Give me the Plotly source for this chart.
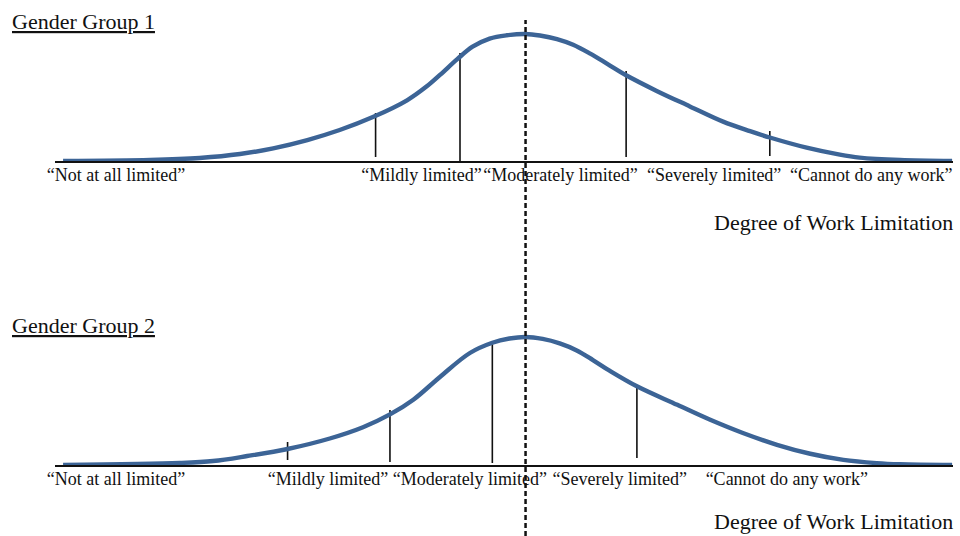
import plotly.graph_objects as go

# Latent scale of "degree of work limitation" (0-100); density normalised to peak = 1
g1_x = [0.9, 10.6, 16.1, 20.6, 24.3, 28.1, 31.7, 35.4, 39.2, 41.4, 42.9, 44.8, 46.5, 48.4,
        50.3, 52.4, 54.0, 55.9, 57.7, 59.6, 61.5, 63.6, 67.0, 70.7, 74.4, 77.4, 79.6, 83.7,
        87.4, 89.6, 94.1, 99.9]
g1_y = [0.0, 0.008, 0.024, 0.055, 0.10, 0.165, 0.244, 0.346, 0.478, 0.588, 0.68, 0.802,
        0.9, 0.964, 0.99, 1.0, 0.988, 0.96, 0.915, 0.845, 0.765, 0.675, 0.552, 0.43, 0.31,
        0.235, 0.185, 0.105, 0.05, 0.027, 0.008, 0.0]

g2_x = [0.9, 13.9, 17.6, 21.4, 25.9, 30.6, 34.3, 37.3, 39.9, 42.9, 46.2, 48.7, 50.6, 52.4,
        54.3, 56.2, 58.1, 59.9, 61.8, 64.8, 69.3, 72.9, 76.6, 80.4, 84.1, 87.8, 91.5, 94.1,
        99.9]
g2_y = [0.0, 0.016, 0.031, 0.07, 0.125, 0.207, 0.295, 0.395, 0.51, 0.69, 0.875, 0.955,
        0.988, 1.0, 0.985, 0.95, 0.895, 0.82, 0.735, 0.615, 0.47, 0.355, 0.25, 0.158, 0.088,
        0.04, 0.015, 0.006, 0.0]

# Thresholds (cut points) per group
g1_cut_x = [35.7, 45.1, 63.6, 79.6]
g1_cut_top = [0.378, 0.85, 0.709, 0.236]
g1_cut_bot = [0.031, 0.0, 0.031, 0.039]
g2_cut_x = [25.9, 37.3, 48.7, 64.8]
g2_cut_top = [0.18, 0.43, 0.96, 0.61]
g2_cut_bot = [0.039, 0.023, 0.016, 0.055]

common_mean = 52.4

categories = ["“Not at all limited”", "“Mildly limited”", "“Moderately limited”",
              "“Severely limited”", "“Cannot do any work”"]
g1_label_x = [6.8, 40.8, 56.3, 73.4, 90.9]
g2_label_x = [6.8, 30.4, 46.2, 62.9, 81.5]

titles = ["Gender Group 1", "Gender Group 2"]
axis_title = "Degree of Work Limitation"

CURVE = "#3c6496"
FONT = "Liberation Serif"
W, H = 960, 536

def seg(xs, bots, tops):
    X, Y = [], []
    for x, b, t in zip(xs, bots, tops):
        X += [x, x, None]
        Y += [b, t, None]
    return X, Y

fig = go.Figure()
for xs, ys, cx, cb, ct, ax in [
    (g1_x, g1_y, g1_cut_x, g1_cut_bot, g1_cut_top, ("x", "y")),
    (g2_x, g2_y, g2_cut_x, g2_cut_bot, g2_cut_top, ("x2", "y2")),
]:
    sx, sy = seg(cx, cb, ct)
    fig.add_trace(go.Scatter(x=sx, y=sy, mode="lines", xaxis=ax[0], yaxis=ax[1],
                             line=dict(color="#111111", width=1.6), hoverinfo="skip"))
    fig.add_trace(go.Scatter(x=xs, y=ys, mode="lines", xaxis=ax[0], yaxis=ax[1],
                             line=dict(color=CURVE, width=4.4, shape="spline", smoothing=1.0)))

xdom = [55 / W, 953 / W]
top_base, top_peak = 161, 34
bot_base, bot_peak = 465, 337
yr = [0, 1.1]

def ydom(base, peak):
    b = 1 - base / H
    h = (base - peak) / H
    return [b, b + h * yr[1]]

xcommon = dict(range=[0, 100], domain=xdom, showgrid=False, zeroline=False, showline=True,
               linecolor="#111111", linewidth=2, ticks="", tickmode="array", tickangle=0,
               automargin=False, ticklabelstandoff=-4,
               tickfont=dict(family=FONT, size=18, color="#111111"))
ycommon = dict(range=yr, showgrid=False, zeroline=False, showline=False,
               showticklabels=False, automargin=False)

fig.update_layout(
    width=W, height=H, margin=dict(l=0, r=0, t=0, b=0, autoexpand=False),
    plot_bgcolor="white", paper_bgcolor="white", showlegend=False,
    xaxis=dict(xcommon, anchor="y", tickvals=g1_label_x, ticktext=categories),
    yaxis=dict(ycommon, anchor="x", domain=ydom(top_base, top_peak)),
    xaxis2=dict(xcommon, anchor="y2", tickvals=g2_label_x, ticktext=categories),
    yaxis2=dict(ycommon, anchor="x2", domain=ydom(bot_base, bot_peak)),
)

fig.add_shape(type="line", xref="x", yref="paper", x0=common_mean, x1=common_mean,
              y0=0, y1=1 - 20 / H, layer="above",
              line=dict(color="#111111", width=2.5, dash="5px,3px"))

for t, yc in zip(titles, [22, 325]):
    fig.add_annotation(text="<u>" + t + "</u>", xref="paper", yref="paper",
                       x=10 / W, y=1 - yc / H, xanchor="left", yanchor="middle",
                       showarrow=False, font=dict(family=FONT, size=22, color="#111111"))
for yc in [222, 521]:
    fig.add_annotation(text=axis_title, xref="paper", yref="paper",
                       x=955 / W, y=1 - yc / H, xanchor="right", yanchor="middle",
                       showarrow=False, font=dict(family=FONT, size=22, color="#111111"))

fig.write_html("out.html", config={"displayModeBar": False},
               post_script="document.body.style.margin='0px';document.body.style.overflow='hidden';")
